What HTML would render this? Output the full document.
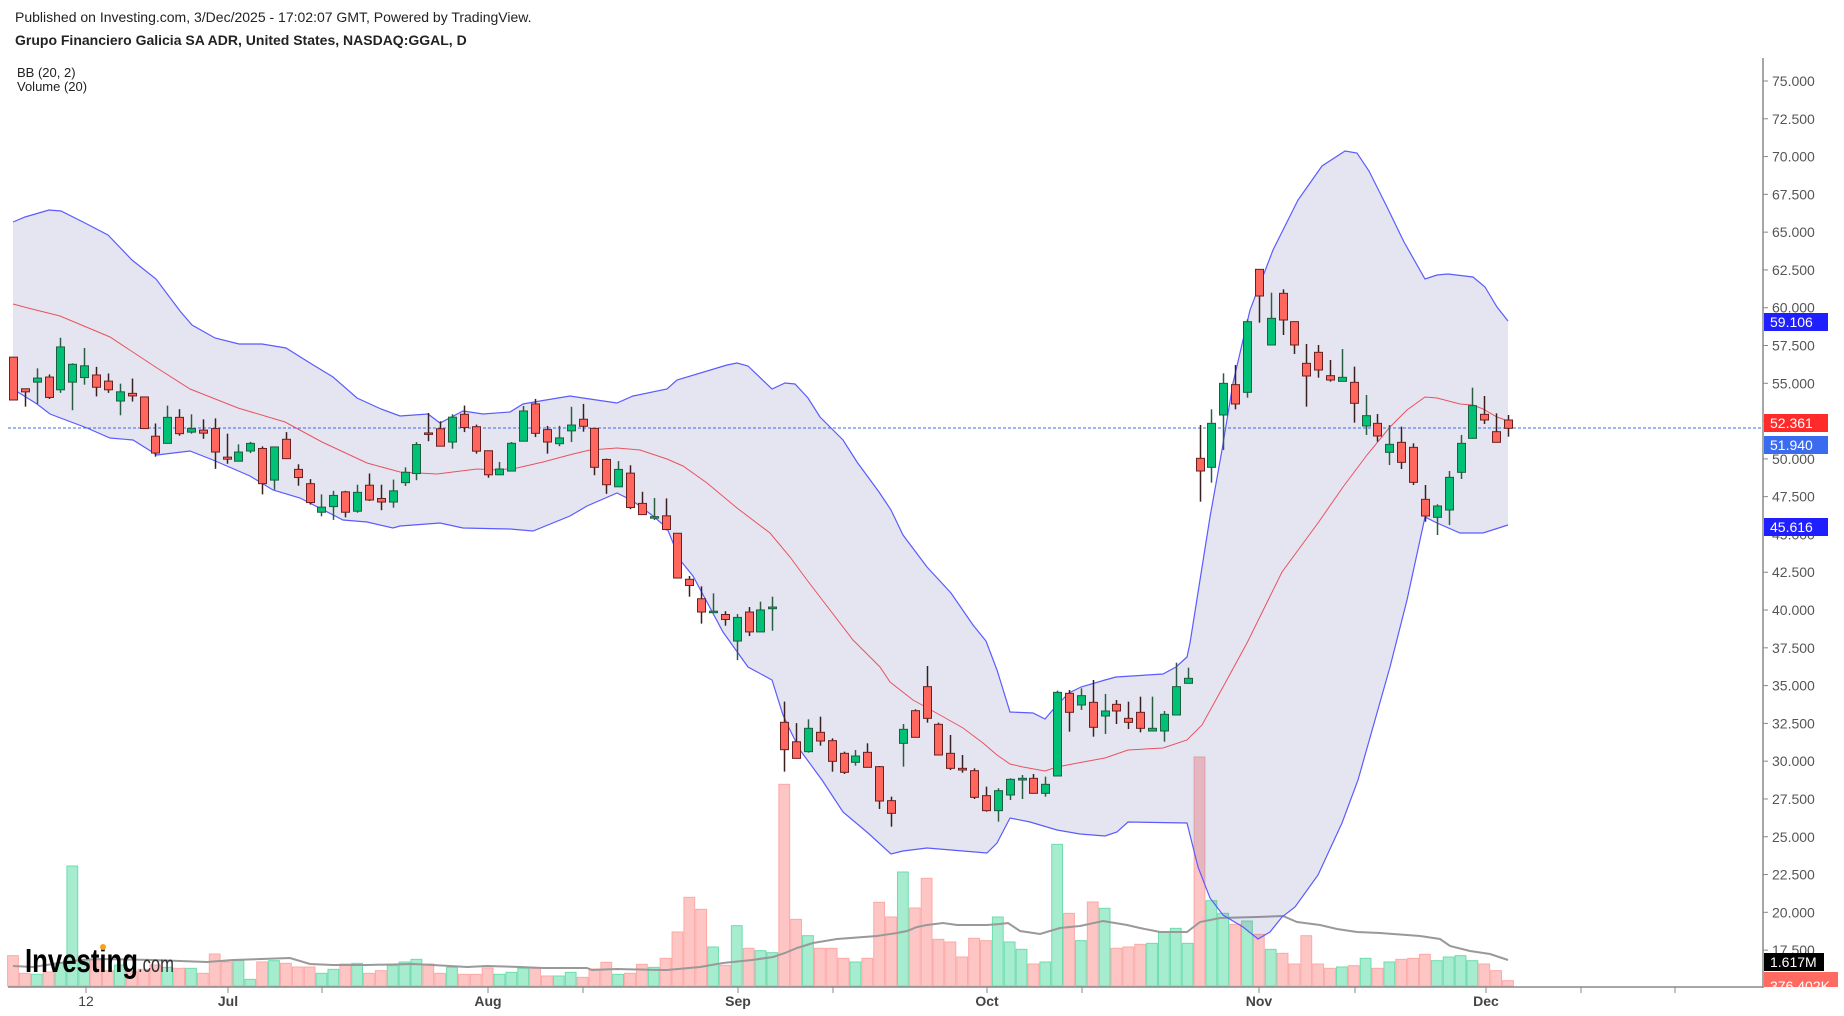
<!DOCTYPE html>
<html><head><meta charset="utf-8">
<style>
html,body{margin:0;padding:0;background:#fff;}
svg{display:block;font-family:"Liberation Sans",Arial,sans-serif;}
</style></head>
<body>
<svg id="s" width="1844" height="1016" viewBox="0 0 1844 1016" xmlns="http://www.w3.org/2000/svg">
<rect width="1844" height="1016" fill="#fff"/>
<text x="15" y="22" font-size="14" fill="#222">Published on Investing.com, 3/Dec/2025 - 17:02:07 GMT, Powered by TradingView.</text>
<text x="15" y="45" font-size="14" font-weight="bold" fill="#222">Grupo Financiero Galicia SA ADR, United States, NASDAQ:GGAL, D</text>
<text x="17" y="77" font-size="13" fill="#222">BB (20, 2)</text>
<text x="17" y="91" font-size="13" fill="#222">Volume (20)</text>
<g id="vol"></g>
<g id="band"></g>
<line x1="8" y1="428" x2="1763" y2="428" stroke="#3b6cf0" stroke-width="1" stroke-dasharray="3,2"/>
<g id="cand"></g>
<g id="logo">
<text x="25" y="972" font-size="33" font-weight="bold" fill="#000" textLength="113" lengthAdjust="spacingAndGlyphs">Investing</text>
<text x="138" y="972" font-size="23" fill="#333" textLength="36" lengthAdjust="spacingAndGlyphs">.com</text>
<circle cx="103" cy="947" r="3" fill="#f7a21b"/>
</g>
<g id="axis"></g>
</svg>
<script>
var NS="http://www.w3.org/2000/svg";
function el(p,t,a,txt){var e=document.createElementNS(NS,t);for(var k in a)e.setAttribute(k,a[k]);if(txt!=null)e.textContent=txt;p.appendChild(e);return e;}
var g3=[["R",308,392,308,392],["R",370,376,370,405],["G",349,357,330,400],["R",347,387,342,390],["G",288,372,270,378],["G",322,357,320,412],["G",325,348,290,362],["R",343,367,327,385],["R",355,372,340,378],["G",376,394,360,422],["R",379,384,350,395],["R",386,448,386,448],["R",463,496,438,503],["G",426,477,403,477],["R",426,458,410,462],["G",448,455,420,458],["R",451,457,430,468],["R",448,494,428,527],["R",504,508,458,517],["G",494,512,479,512],["G",477,492,474,496],["R",487,556,483,577],["G",484,549,484,568],["R",469,507,455,507],["R",528,544,518,560],["R",556,593,547,597],["G",602,612,577,620],["G",579,601,570,627],["R",572,612,570,622],["G",573,610,558,613],["R",559,588,536,590],["R",585,592,558,608],["G",570,592,548,603]];
var g4=[["G",295,320,283,328],["G",228,298,222,314],["R",200,203,152,220],["R",190,232,172,232],["G",162,222,155,238],["R",155,187,134,198],["R",185,244,180,250],["R",243,301,243,308],["G",287,301,270,301],["G",225,292,222,292],["G",147,220,135,220],["R",130,201,118,210],["R",192,222,183,250],["G",212,226,183,232],["G",181,195,137,222],["R",167,184,130,197],["R",189,283,189,302],["R",264,325,262,347],["G",288,330,268,330],["R",297,380,278,384],["R",370,397,342,397],["G",402,404,357,410],["R",400,433,358,435],["R",442,550,442,550],["R",553,568,545,595],["R",600,632,570,660],["G",630,632,587,632],["R",638,650,630,665],["G",645,702,637,748],["R",632,680,620,690],["G",627,680,607,680],["G",620,624,595,677],["R",898,964,848,1017],["R",945,985,900,985]];
var g5=[["G",1285,1355,1258,1358],["R",1297,1323,1250,1337],["R",1322,1384,1315,1415],["R",1360,1417,1355,1422],["G",1368,1387,1350,1397],["R",1357,1402,1330,1402],["R",1400,1503,1398,1527],["R",1502,1540,1490,1580],["G",1288,1330,1272,1400],["R",1232,1312,1228,1312],["R",1160,1255,1098,1268],["R",1273,1365,1268,1365],["R",1360,1405,1305,1410],["R",1405,1410,1365,1418],["R",1412,1492,1405,1497],["R",1487,1532,1460,1535],["G",1472,1532,1465,1565],["G",1438,1485,1435,1500],["G",1435,1440,1425,1497],["R",1435,1480,1422,1480],["G",1453,1480,1430,1490],["G",1177,1428,1172,1428],["R",1180,1237,1170,1295],["G",1187,1215,1165,1230],["R",1207,1282,1140,1310],["G",1233,1248,1182,1302],["R",1213,1233,1200,1272],["R",1255,1267,1205,1287],["R",1237,1285,1190,1297],["G",1285,1293,1190,1293],["G",1243,1293,1233,1325],["G",1160,1245,1088,1245],["G",1135,1150,1103,1150]];
var g6=[["R",625,663,525,755],["G",520,652,478,698],["G",400,495,370,600],["R",404,462,345,478],["G",215,427,208,443],["R",58,138,58,218],["G",205,285,128,285],["R",130,210,118,255],["R",215,285,215,312],["R",340,378,282,470],["R",307,360,285,383],["R",377,390,330,395],["G",382,394,297,394],["R",397,460,350,518],["G",497,528,435,555],["R",520,558,492,575],["G",583,607,525,645],["R",577,637,530,657],["R",592,697,580,705],["R",748,798,705,815],["G",768,802,763,855],["G",682,780,663,825],["G",580,667,555,687],["G",467,565,413,565],["R",493,510,438,522],["R",545,577,490,577],["R",510,535,495,560]];
var C=[];
function add(arr,f){arr.forEach(function(c){C.push([c[0],f(c[1]),f(c[2]),f(c[3]),f(c[4])]);});}
add(g3,function(v){return 200+v/1.96;});
add(g4,function(v){return 350+v/2.412;});
add(g5,function(v){return 300+v/3;});
add(g6,function(v){return 250+v/3;});
function X(i){return 13+i*11.865;}
var vz=[527,580,583,576,550,258,540,540,572,555,575,568,555,562,565,565,580,522,546,542,598,546,542,550,561,561,580,568,552,550,580,572,557,546,538,552,580,562,583,583,564,583,577,
565,565,588,588,577,592,567,547,583,580,553,562,535,456,352,388,501,556,437,505,512,518,13,418,467,505,505,535,546,535,367,411,276,384,295,478,486,531,475,482,411,486,508,552,
546,193,400,482,366,385,505,501,493,490,456,445,490,-69,362,400,433,423,463,508,520,552,467,552,565,561,557,535,565,546,538,535,523,542,531,527,542,552,572,602];
var vol=document.getElementById('vol');
for(var i=0;i<C.length;i++){var vt=780+vz[i]/3,vx=X(i);var vg=C[i][0]=="G";
el(vol,'rect',{x:vx-5.4,y:vt,width:10.8,height:986-vt,fill:vg?"#a6ecce":"#fdc6c4",stroke:vg?"#6fdcae":"#fca9a6","stroke-width":1});}
var vma=[[13,966],[33,967],[80,960],[100,959],[153,960],[207,962],[233,960],[290,958],[310,964],[333,965],[367,965],[413,964],[433,965],[467,967],[487,966],[520,967],[543,968],[587,968],[592,970],[617,969],[660,970],[667,970],[700,967],[723,963],[752,960],[773,957],[785,953],[797,948],[813,943],[837,939],[877,936],[897,933],[907,931],[917,927],[927,925],[943,923],[957,925],[987,925],[1000,924],[1008,923],[1020,931],[1040,934],[1060,928],[1080,926],[1103,921],[1127,925],[1140,928],[1160,932],[1187,932],[1200,922],[1220,918],[1257,917],[1283,916],[1297,922],[1320,925],[1337,929],[1357,932],[1380,933],[1420,936],[1440,939],[1450,946],[1470,951],[1490,954],[1508,960]];
el(vol,'polyline',{points:vma.map(function(p){return p.join(',')}).join(' '),fill:"none",stroke:"#999","stroke-width":2});
var up=[[13,222],[25,217],[49,210],[61,211],[85,223],[108,235],[132,260],[156,279],[180,311],[192,325],[215,338],[239,344],[262,344],[286,348],[310,363],[333,377],[357,398],[381,409],[400,416],[428,414],[440,423],[463,411],[483,414],[510,412],[523,404],[540,401],[570,396],[583,398],[617,403],[633,396],[667,389],[677,380],[727,365],[737,363],[748,366],[772,389],[785,383],[795,384],[808,398],[820,417],[843,440],[857,462],[879,492],[891,510],[903,535],[927,567],[951,593],[973,625],[986,641],[997,670],[1010,712],[1033,713],[1045,719],[1057,705],[1069,693],[1081,687],[1105,680],[1116,677],[1163,674],[1176,667],[1187,657],[1190,643],[1200,580],[1210,517],[1222,450],[1233,383],[1250,310],[1273,250],[1298,200],[1322,166],[1345,151],[1357,153],[1369,171],[1387,207],[1404,242],[1425,279],[1437,275],[1448,274],[1473,277],[1485,287],[1497,307],[1508,321]];
var lo=[[13,389],[37,404],[50,414],[87,428],[110,438],[133,440],[157,455],[190,451],[213,460],[250,476],[273,490],[300,498],[343,520],[367,522],[393,528],[400,526],[440,523],[463,528],[510,529],[533,531],[570,516],[587,506],[617,493],[633,501],[653,516],[667,528],[680,560],[693,576],[723,632],[748,667],[772,680],[783,715],[790,730],[800,750],[822,780],[843,812],[868,833],[891,854],[903,851],[927,848],[963,851],[987,853],[997,843],[1010,818],[1030,822],[1057,830],[1080,834],[1105,836],[1117,832],[1128,822],[1187,823],[1198,867],[1210,898],[1223,915],[1243,927],[1258,939],[1270,932],[1282,917],[1295,907],[1318,875],[1342,823],[1358,780],[1390,667],[1407,600],[1425,517],[1437,523],[1460,533],[1483,533],[1508,525]];
var mid=[[13,304],[28,308],[60,316],[110,337],[157,368],[190,389],[238,408],[285,422],[322,442],[367,463],[400,472],[437,474],[477,469],[497,470],[517,468],[543,462],[573,454],[590,450],[617,448],[640,450],[667,459],[683,466],[707,483],[737,508],[770,533],[790,557],[807,580],[820,597],[853,640],[880,667],[890,682],[913,700],[940,715],[963,728],[983,743],[997,755],[1010,764],[1023,767],[1045,771],[1057,767],[1083,762],[1105,758],[1128,750],[1163,748],[1187,740],[1202,725],[1223,687],[1247,643],[1282,572],[1318,523],[1343,487],[1367,455],[1390,427],[1407,410],[1425,397],[1437,398],[1460,404],[1473,405],[1483,409],[1497,417],[1508,421]];
function pts(a){return a.map(function(p){return p[0]+','+p[1]}).join(' ');}
var band=document.getElementById('band');
el(band,'polygon',{points:pts(up)+' '+pts(lo.slice().reverse()),fill:"rgba(110,110,180,0.18)",stroke:"none"});
el(band,'polyline',{points:pts(up),fill:"none",stroke:"#5b5bff","stroke-width":1.2});
el(band,'polyline',{points:pts(lo),fill:"none",stroke:"#5b5bff","stroke-width":1.2});
el(band,'polyline',{points:pts(mid),fill:"none",stroke:"#e8535e","stroke-width":1});
var cg=document.getElementById('cand');
for(var i=0;i<C.length;i++){var c=C[i],cx=X(i),g=c[0]=="G";
var xs=Math.round(cx)+0.5;
el(cg,'line',{x1:xs,x2:xs,y1:c[3],y2:c[4],stroke:g?"#2a5e43":"#3a1f1f","stroke-width":1.5});
var h=Math.max(c[2]-c[1],1.5);
el(cg,'rect',{x:xs-4,y:c[1],width:8,height:h,fill:g?"#00c176":"#ff675e",stroke:g?"#1d5e3e":"#6b2020","stroke-width":1});}
var ax=document.getElementById('axis');
el(ax,'line',{x1:1763,y1:58,x2:1763,y2:988,stroke:"#888","stroke-width":1.5});
el(ax,'line',{x1:8,y1:987,x2:1763,y2:987,stroke:"#888","stroke-width":1.5});
for(var p=75;p>=17.5;p-=2.5){var y=81+(75-p)*15.115;
el(ax,'line',{x1:1763,x2:1768,y1:y,y2:y,stroke:"#888"});
el(ax,'text',{x:1772,y:y+5,"font-size":14,fill:"#555"},p.toFixed(3));}
function box(y,w,bg,txt,fg){el(ax,'rect',{x:1764,y:y-9,width:w,height:18,fill:bg});el(ax,'text',{x:1770,y:y+5,"font-size":14,fill:fg},txt);}
box(322,64,"#1f1fff","59.106","#fff");
box(423,64,"#ff2a2a","52.361","#fff");
box(445,64,"#3b6cf0","51.940","#fff");
box(527,64,"#1f1fff","45.616","#fff");
box(962,60,"#000","1.617M","#fff");
el(ax,'rect',{x:1764,y:972,width:74,height:15,fill:"#ff6b60"});
el(ax,'text',{x:1770,y:991,"font-size":14,fill:"#fff"},"376.402K");
el(ax,'rect',{x:1763,y:988,width:81,height:28,fill:"#fff"});
var ticks=[86,228,322,488,583,738,833,987,1082,1259,1355,1486,1581,1675];
ticks.forEach(function(t){el(ax,'line',{x1:t,x2:t,y1:987,y2:993,stroke:"#888"});});
var labs=[[86,"12",0],[228,"Jul",1],[488,"Aug",1],[738,"Sep",1],[987,"Oct",1],[1259,"Nov",1],[1486,"Dec",1]];
labs.forEach(function(l){el(ax,'text',{x:l[0],y:1006,"font-size":14,fill:"#444","text-anchor":"middle","font-weight":l[2]?"bold":"normal"},l[1]);});
</script>
</body></html>
